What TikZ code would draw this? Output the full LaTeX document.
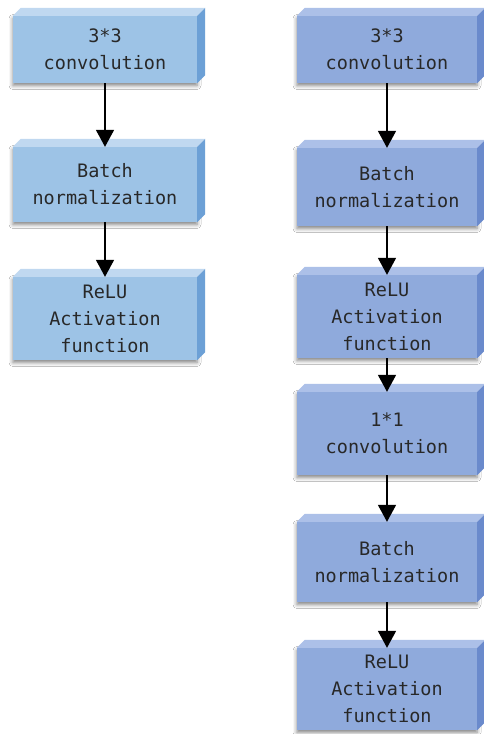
\documentclass[tikz,border=0pt]{standalone}
\usepackage{fontspec}
\newfontfamily\boxfont{DejaVu Sans Mono}
\usetikzlibrary{arrows.meta,shadows.blur}

\definecolor{lfront}{RGB}{157,195,230}
\definecolor{ltop}{RGB}{192,216,240}
\definecolor{lside}{RGB}{108,160,214}
\definecolor{rfront}{RGB}{143,170,220}
\definecolor{rtop}{RGB}{172,192,232}
\definecolor{rside}{RGB}{106,138,204}
\definecolor{textgray}{RGB}{40,40,40}

\tikzset{
  stage/.style={rectangle, inner sep=0pt, align=center,
    font=\boxfont\fontsize{18.5}{27}\selectfont, text=textgray,
    blur shadow={shadow xshift=0pt, shadow yshift=-2.5pt,
      shadow blur radius=4pt, shadow opacity=50}},
  lstage/.style={stage, fill=lfront, minimum width=184pt},
  rstage/.style={stage, fill=rfront, minimum width=180pt},
  flow/.style={line width=1.8pt, -{Triangle[width=18pt,length=17pt]}}
}

% top and right faces of a block: node, top colour, side colour
\newcommand{\blockfaces}[3]{%
  \fill[#2] (#1.north west) -- ++(8,-8) -- ([shift={(8,-8)}]#1.north east) -- (#1.north east) -- cycle;
  \fill[#3] (#1.north east) -- ++(8,-8) -- ([shift={(8,-8)}]#1.south east) -- (#1.south east) -- cycle;
}

\begin{document}
\begin{tikzpicture}[x=1pt,y=-1pt]
  \fill[white] (0,0) rectangle (483,734);
  \useasboundingbox (0,0) rectangle (483,734);

  % plain block
  \node[lstage, minimum height=67pt] (L1) at (105,49.5) {3*3\\convolution};
  \node[lstage, minimum height=75pt] (L2) at (105,184.5) {Batch\\normalization};
  \node[lstage, minimum height=83pt] (L3) at (105,318.5) {ReLU\\Activation\\function};
  \foreach \n in {L1,L2,L3} {\blockfaces{\n}{ltop}{lside}}

  % block with 1*1 convolution
  \node[rstage, minimum height=67pt] (R1) at (387,49.5) {3*3\\convolution};
  \node[rstage, minimum height=78pt] (R2) at (387,187) {Batch\\normalization};
  \node[rstage, minimum height=83pt] (R3) at (387,316.5) {ReLU\\Activation\\function};
  \node[rstage, minimum height=83pt] (R4) at (387,433.5) {1*1\\convolution};
  \node[rstage, minimum height=80pt] (R5) at (387,562) {Batch\\normalization};
  \node[rstage, minimum height=82pt] (R6) at (387,689) {ReLU\\Activation\\function};
  \foreach \n in {R1,R2,R3,R4,R5,R6} {\blockfaces{\n}{rtop}{rside}}

  % connectors
  \draw[flow] (L1.south) -- (L2.north);
  \draw[flow] (L2.south) -- (L3.north);
  \draw[flow] (R1.south) -- (R2.north);
  \draw[flow] (R2.south) -- (R3.north);
  \draw[flow] (R3.south) -- (R4.north);
  \draw[flow] (R4.south) -- (R5.north);
  \draw[flow] (R5.south) -- (R6.north);
\end{tikzpicture}
\end{document}
